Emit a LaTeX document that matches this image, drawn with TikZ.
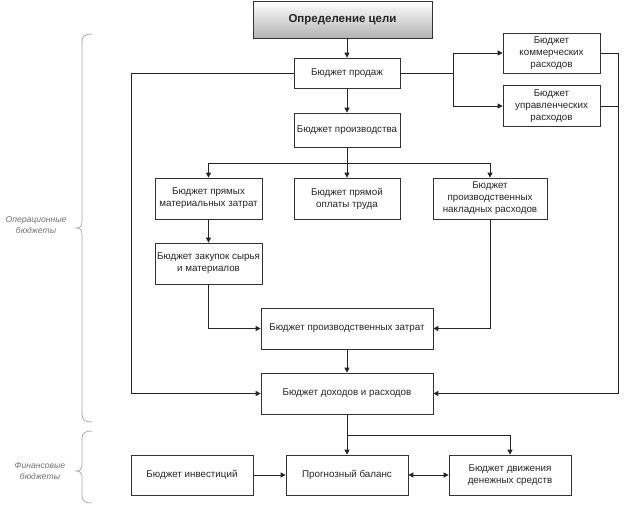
\documentclass[tikz,border=0pt]{standalone}
\usepackage{fontspec}
\setmainfont{Liberation Sans}
\usetikzlibrary{arrows.meta}
\begin{document}
\begin{tikzpicture}[x=1pt,y=-1pt,
 box/.style={draw=black!80, line width=0.7pt, fill=white, align=center, inner sep=1pt, font=\fontsize{9.8}{12}\selectfont, text=black!85},
 conn/.style={draw=black!85, line width=0.8pt},
 arr/.style={conn, -{Triangle[length=5pt,width=5pt]}},
 darr/.style={conn, {Triangle[length=5pt,width=5pt]}-{Triangle[length=5pt,width=5pt]}},
 brace/.style={draw=gray!70, line width=0.7pt},
 blabel/.style={font=\fontsize{8.6}{11.5}\selectfont\itshape, text=gray!90!black, align=center}]
\useasboundingbox (0,0) rectangle (624,504);

\node[box, minimum width=179pt, minimum height=37pt, top color=white, bottom color=gray!60, font=\fontsize{11.5}{13}\selectfont\bfseries] (goal) at (342.5,19.5) {Определение цели};
\node[box, minimum width=106pt, minimum height=30pt] (sales) at (347,73) {Бюджет продаж};
\node[box, minimum width=106pt, minimum height=34pt] (prod) at (347,130) {Бюджет производства};
\node[box, minimum width=97pt, minimum height=40pt] (comm) at (551.5,53) {Бюджет\\коммерческих\\расходов};
\node[box, minimum width=97pt, minimum height=41pt] (mgmt) at (551.5,106) {Бюджет\\управленческих\\расходов};
\node[box, minimum width=107pt, minimum height=41pt] (dm) at (208.5,198.5) {Бюджет прямых\\материальных затрат};
\node[box, minimum width=106pt, minimum height=41pt] (labor) at (347,198.5) {Бюджет прямой\\оплаты труда};
\node[box, minimum width=114pt, minimum height=41pt] (over) at (490,198.5) {Бюджет\\производственных\\накладных расходов};
\node[box, minimum width=107pt, minimum height=41pt] (purch) at (208.5,263.5) {Бюджет закупок сырья\\и материалов};
\node[box, minimum width=172pt, minimum height=41pt] (pcost) at (347,328.5) {Бюджет производственных затрат};
\node[box, minimum width=172pt, minimum height=41pt] (income) at (347,393.5) {Бюджет доходов и расходов};
\node[box, minimum width=122pt, minimum height=40pt] (inv) at (192,475) {Бюджет инвестиций};
\node[box, minimum width=122pt, minimum height=40pt] (bal) at (347,475) {Прогнозный баланс};
\node[box, minimum width=122pt, minimum height=40pt] (cash) at (510,475) {Бюджет движения\\денежных средств};

\coordinate (sj) at (453,73);
\coordinate (lx) at (131,0);
\coordinate (rx) at (618,0);
\coordinate (pj) at (347,163);
\coordinate (ij) at (347,435);

\draw[arr] (goal.south -| sales.north) -- (sales.north);
\draw[arr] (sales) -- (prod);
\draw[conn] (sales.east) -- (sj);
\draw[arr] (sj) |- (comm.west);
\draw[arr] (sj) |- (mgmt.west);
\draw[arr] (sales.west) -- (sales.west -| lx) |- (income.west);
\draw[conn] (comm.east) -| (rx |- mgmt.east);
\draw[arr] (mgmt.east) -- (mgmt.east -| rx) |- (income.east);
\draw[conn] (prod.south) -- (pj);
\draw[arr] (pj) -| (dm.north);
\draw[arr] (pj) -| (over.north);
\draw[arr] (pj) -- (labor.north);
\draw[arr] (dm) -- (purch);
\draw[arr] (purch.south) |- (pcost.west);
\draw[arr] (over.south) |- (pcost.east);
\draw[arr] (pcost) -- (income);
\draw[arr] (income) -- (bal);
\draw[arr] (ij) -| (cash.north);
\draw[arr] (inv) -- (bal);
\draw[darr] (bal) -- (cash);

\draw[brace] (92,34) .. controls (85,34) and (82,36) .. (82,42) -- (82,222) .. controls (82,226) and (80,228) .. (76,228) .. controls (80,228) and (82,230) .. (82,234) -- (82,414) .. controls (82,420) and (85,422) .. (92,422);
\draw[brace] (92,431) .. controls (85,431) and (82,433) .. (82,439) -- (82,465) .. controls (82,469) and (80,471) .. (76,471) .. controls (80,471) and (82,473) .. (82,477) -- (82,495) .. controls (82,501) and (85,503) .. (92,503);

\node[blabel] (opl) at (36,225) {Операционные\\бюджеты};
\node[blabel] (finl) at (40,471) {Финансовые\\бюджеты};
\end{tikzpicture}
\end{document}
